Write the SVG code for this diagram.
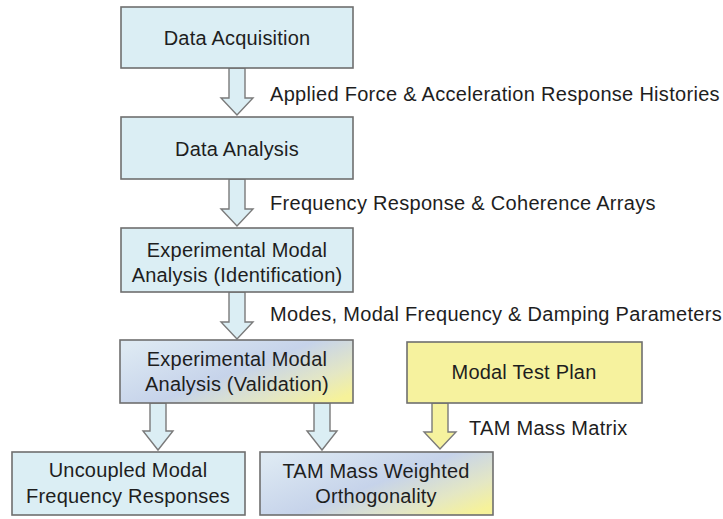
<svg xmlns="http://www.w3.org/2000/svg" width="723" height="519" viewBox="0 0 723 519">
  <style>
    .box { stroke: #6f6f6f; stroke-width: 1.6; }
    .blue { fill: #dbeef4; }
    .yellow { fill: #f6f29e; }
    .mix { fill: url(#mixGrad); }
    .arrow { stroke: #7a7a7a; stroke-width: 1.4; stroke-linejoin: miter; }
    .arrow-blue { fill: #dbeef4; }
    .arrow-yellow { fill: #f6f29e; }
    text { font-family: "Liberation Sans", Arial, sans-serif; fill: #1e1e1e; }
    .node-text { font-size: 20px; letter-spacing: 0.2px; text-anchor: middle; }
    .label { font-size: 20px; letter-spacing: 0.3px; }
  </style>
  <defs>
    <linearGradient id="mixGrad" x1="0" y1="0.15" x2="1" y2="0.85">
      <stop offset="0" stop-color="#dde9f3"/>
      <stop offset="0.5" stop-color="#c6d3ea"/>
      <stop offset="0.8" stop-color="#e4e7c4"/>
      <stop offset="1" stop-color="#f6f29a"/>
    </linearGradient>
  </defs>
  <rect width="723" height="519" fill="#ffffff"/>

  <!-- block arrows between stages -->
  <g id="connectors">
    <path class="arrow arrow-blue" d="M229,68 V98 H221 L237,115 L253,98 H245 V68 Z"/>
    <path class="arrow arrow-blue" d="M229,179 V209 H221 L237,226 L253,209 H245 V179 Z"/>
    <path class="arrow arrow-blue" d="M229,292 V322 H221 L237,339 L253,322 H245 V292 Z"/>
    <path class="arrow arrow-blue" d="M150,403 V431 H143 L158,450 L173,431 H166 V403 Z"/>
    <path class="arrow arrow-blue" d="M314,403 V431 H307 L322,450 L337,431 H330 V403 Z"/>
    <path class="arrow arrow-yellow" d="M432,403 V432 H424 L440,449 L456,432 H448 V403 Z"/>
  </g>

  <g id="labels">
    <text class="label" x="270" y="101">Applied  Force &amp; Acceleration Response Histories</text>
    <text class="label" x="270" y="210">Frequency Response &amp; Coherence Arrays</text>
    <text class="label" x="270" y="321">Modes, Modal Frequency &amp; Damping Parameters</text>
    <text class="label" x="469" y="435">TAM  Mass Matrix</text>
  </g>

  <g id="data-acquisition">
    <rect class="box blue" x="121" y="7" width="232" height="61"/>
    <text class="node-text" x="237" y="45">Data Acquisition</text>
  </g>
  <g id="data-analysis">
    <rect class="box blue" x="121" y="117" width="232" height="62"/>
    <text class="node-text" x="237" y="156">Data Analysis</text>
  </g>
  <g id="ema-identification">
    <rect class="box blue" x="121" y="228" width="232" height="64"/>
    <text class="node-text" x="237" y="257">Experimental  Modal</text>
    <text class="node-text" x="237" y="282">Analysis (Identification)</text>
  </g>
  <g id="ema-validation">
    <rect class="box mix" x="120" y="340" width="233" height="63"/>
    <text class="node-text" x="237" y="366">Experimental  Modal</text>
    <text class="node-text" x="237" y="391">Analysis (Validation)</text>
  </g>
  <g id="modal-test-plan">
    <rect class="box yellow" x="407" y="342" width="235" height="61"/>
    <text class="node-text" x="524" y="379">Modal  Test Plan</text>
  </g>
  <g id="uncoupled-frf">
    <rect class="box blue" x="12" y="452" width="233" height="63"/>
    <text class="node-text" x="128" y="477">Uncoupled  Modal</text>
    <text class="node-text" x="128" y="503">Frequency  Responses</text>
  </g>
  <g id="tam-orthogonality">
    <rect class="box mix" x="260" y="452" width="233" height="63"/>
    <text class="node-text" x="376" y="478">TAM  Mass Weighted</text>
    <text class="node-text" x="376" y="503">Orthogonality</text>
  </g>
</svg>
